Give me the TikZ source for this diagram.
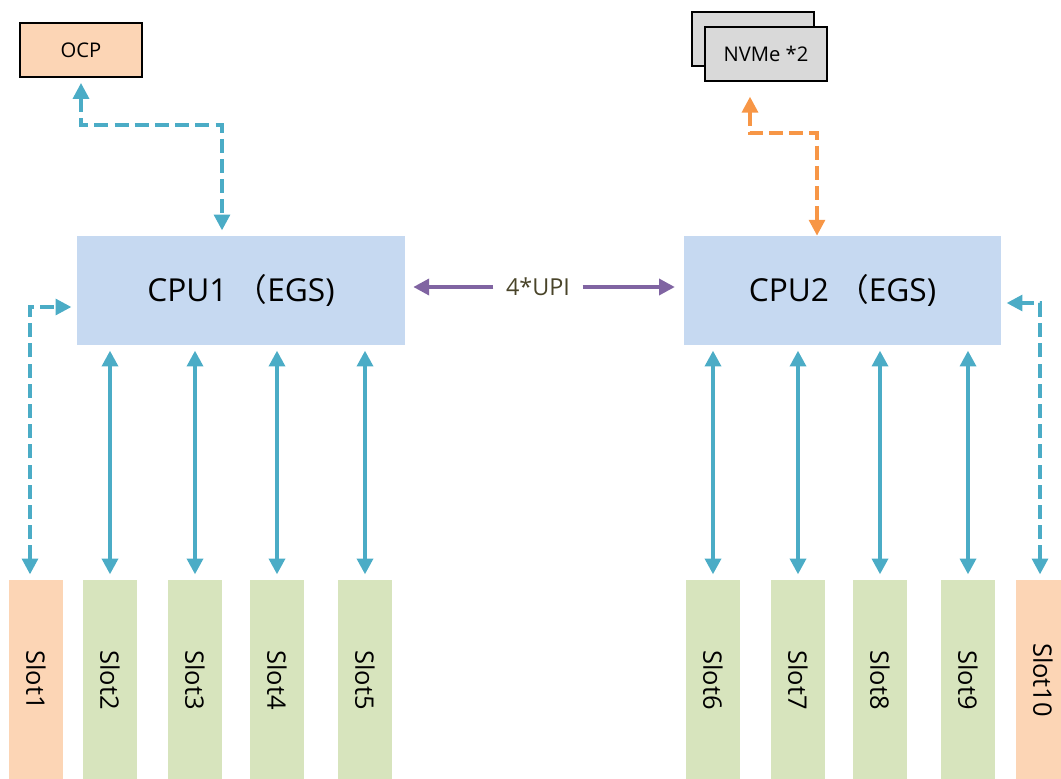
\documentclass[tikz,border=0pt]{standalone}
\usepackage{fontspec}
\setmainfont{Open Sans}
\newfontfamily\cjk{Noto Sans CJK SC}
\usepackage{tikz}
\usetikzlibrary{arrows.meta}
\usetikzlibrary{positioning}

\definecolor{linkblue}{HTML}{4BACC6}
\definecolor{linkorange}{HTML}{F79646}
\definecolor{upipurple}{HTML}{8064A2}
\definecolor{upitext}{HTML}{494429}
\definecolor{cpufill}{HTML}{C6D9F1}
\definecolor{slotgreen}{HTML}{D7E4BD}
\definecolor{peach}{HTML}{FCD5B5}
\definecolor{nvgray}{HTML}{D9D9D9}

\begin{document}
\begin{tikzpicture}[>={Triangle[width=9pt,length=9pt]},
    cpu/.style={fill=cpufill,minimum height=2.18cm,font=\fontsize{18}{22}\selectfont},
    slot/.style={fill=slotgreen,minimum width=1.08cm,minimum height=4cm,inner sep=0pt,font=\fontsize{14.5}{17}\selectfont},
    card/.style={draw,line width=0.8pt,minimum width=2.44cm,minimum height=1.08cm,font=\fontsize{11.5}{13}\selectfont},
    bus/.style={<->,linkblue,line width=2.2pt,shorten <=3pt,shorten >=3pt},
    dbus/.style={bus,dash pattern=on 8pt off 3.5pt,line width=2pt},
    upi/.style={->,upipurple,line width=2.2pt}]
%page frame
    \useasboundingbox (0,0) rectangle (21.22,-15.56);
    \clip (0,0) rectangle (21.22,-15.56);

    \node[card,fill=peach] (ocp) at (1.62,-1.00) {OCP};
    \node[card,fill=nvgray] (nvmeback) at (15.06,-0.78) {};
    \node[card,fill=nvgray] (nvme) at (15.32,-1.08) {NVMe *2};

    \node[cpu,minimum width=6.56cm] (cpu1) at (4.82,-5.81) {CPU1 {\cjk （}EGS)};
    \node[cpu,minimum width=6.34cm] (cpu2) at (16.85,-5.81) {CPU2 {\cjk （}EGS)};
    \node[text=upitext,inner sep=7pt,font=\fontsize{13.3}{15}\selectfont] (upi) at (10.76,-5.74) {4*UPI};

    \foreach \x/\n/\c in {0.72/1/peach,2.20/2/slotgreen,3.90/3/slotgreen,5.54/4/slotgreen,7.30/5/slotgreen,
        14.26/6/slotgreen,15.96/7/slotgreen,17.60/8/slotgreen,19.36/9/slotgreen,20.86/10/peach}
      \node[slot,fill=\c] (s\n) at (\x,-13.6) {\rotatebox{-90}{Slot\n}};

    \foreach \n in {2,3,4,5}
      \draw[bus] (s\n.north) -- (s\n.north |- cpu1.south);
    \foreach \n in {6,7,8,9}
      \draw[bus] (s\n.north) -- (s\n.north |- cpu2.south);

    \draw[upi,shorten >=4.5pt] (upi.west) -- (upi.west -| cpu1.east);
    \draw[upi,shorten >=5pt] (upi.east) -- (upi.east -| cpu2.west);

    \coordinate (ocpbend) at (4.44,-2.5);
    \coordinate (nvbend) at (16.34,-2.66);
    \draw[dbus] ([xshift=-0.12cm]s1.north) |- ([yshift=-0.33cm]cpu1.west);
    \draw[dbus] (ocp.south) |- (ocpbend) -- (ocpbend |- cpu1.north);
    \draw[dbus,linkorange,shorten <=0.3cm,shorten >=0pt] ([xshift=-0.32cm]nvme.south) |- (nvbend) -- (nvbend |- cpu2.north);
    \draw[dbus] ([xshift=-0.06cm]s10.north) |- ([yshift=-0.25cm]cpu2.east);
\end{tikzpicture}
\end{document}
